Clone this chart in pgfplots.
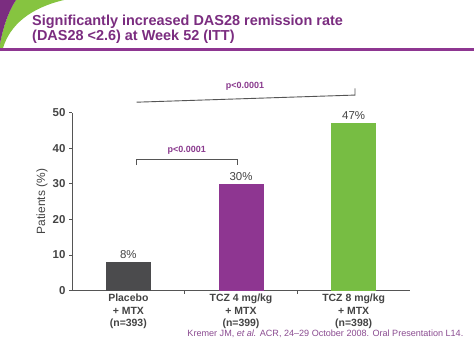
\documentclass[border=0pt]{standalone}
\usepackage{pgfplots}
\pgfplotsset{compat=1.18}
\usepackage{fontspec}
\setmainfont{Liberation Sans}
\definecolor{tpurple}{HTML}{7B2D80}
\definecolor{barpurple}{HTML}{8E3691}
\definecolor{bargreen}{HTML}{77BD43}
\definecolor{sgreen}{HTML}{86C440}
\definecolor{bardark}{HTML}{4B4B4D}
\definecolor{axisgray}{HTML}{555555}
\definecolor{labelgray}{HTML}{444444}
\definecolor{ppurple}{HTML}{8A3A8E}
\definecolor{fpurple}{HTML}{8B4C91}
\begin{document}
\begin{tikzpicture}[x=1bp,y=1bp]
\useasboundingbox (0,0) rectangle (474,-355);
\fill[white] (0,0) rectangle (474,-355);
% corner swoosh
\fill[sgreen] (16,0) -- (64,0) .. controls (30,-8) and (10,-25) .. (3,-48) -- (0,-48) -- (0,-44) .. controls (3,-28) and (8,-12) .. (16,0) -- cycle;
\fill[tpurple] (0,0) -- (16,0) .. controls (8,-12) and (3,-28) .. (0,-44) -- cycle;
\draw[barpurple, line width=2.5bp] (0,-49.5) -- (474,-49.5);
\node[anchor=base west, inner sep=0pt, text=tpurple, font=\fontsize{14.5}{16}\selectfont\bfseries] at (32,-25.5) {Significantly increased DAS28 remission rate};
\node[anchor=base west, inner sep=0pt, text=tpurple, font=\fontsize{14.5}{16}\selectfont\bfseries] at (32,-40.7) {(DAS28 <2.6) at Week 52 (ITT)};
\node[anchor=base east, inner sep=0pt, text=fpurple, font=\fontsize{9.1}{11}\selectfont] at (463.5,-336.5) {Kremer JM, \textit{et al.} ACR, 24--29 October 2008. Oral Presentation L14.};
\begin{axis}[
  at={(72bp,-290.5bp)}, anchor=south west,
  scale only axis, width=338bp, height=178bp,
  xmin=-0.5, xmax=2.5, ymin=0, ymax=50,
  clip=false,
  axis x line*=bottom, axis y line*=left,
  axis line style={draw=axisgray, line width=1bp, -},
  tick style={draw=axisgray, line width=0.8bp},
  tick align=outside, major tick length=3bp,
  ytick={0,10,20,30,40,50},
  /pgf/number format/assume math mode=true,
  yticklabel style={font=\fontsize{11.5}{13}\selectfont\bfseries, text=labelgray},
  xtick={0.5,1.5}, xticklabels={,,},
  extra x ticks={0,1,2},
  extra x tick labels={{Placebo\\+ MTX\\(n=393)},{TCZ 4 mg/kg\\+ MTX\\(n=399)},{TCZ 8 mg/kg\\+ MTX\\(n=398)}},
  extra x tick style={major tick length=0pt},
  xticklabel style={align=center, font=\fontsize{10.5}{12.5}\selectfont\bfseries, text=labelgray},
  ylabel={Patients (\%)},
  every axis y label/.style={at={(axis description cs:-0.0888,0.5)}, rotate=90, anchor=center, font=\fontsize{12}{14}\selectfont, text=labelgray},
]
\addplot[ybar, bar width=45bp, bar shift=0pt, fill=bardark, draw=none,
  point meta=y, nodes near coords={\pgfmathprintnumber{\pgfplotspointmeta}\%},
  every node near coord/.append style={font=\fontsize{11.5}{13}\selectfont, text=labelgray}] coordinates {(0,8)};
\addplot[ybar, bar width=45bp, bar shift=0pt, fill=barpurple, draw=none,
  point meta=y, nodes near coords={\pgfmathprintnumber{\pgfplotspointmeta}\%},
  every node near coord/.append style={font=\fontsize{11.5}{13}\selectfont, text=labelgray}] coordinates {(1,30)};
\addplot[ybar, bar width=45bp, bar shift=0pt, fill=bargreen, draw=none,
  point meta=y, nodes near coords={\pgfmathprintnumber{\pgfplotspointmeta}\%},
  every node near coord/.append style={font=\fontsize{11.5}{13}\selectfont, text=labelgray}] coordinates {(2,47)};
% significance brackets
\draw[axisgray, line width=0.9bp] (axis cs:0.074,35.25) -- (axis cs:0.074,36.85) -- (axis cs:0.967,36.85) -- (axis cs:0.967,35.25);
\node[text=ppurple, font=\fontsize{9}{10}\selectfont\bfseries] at (axis cs:0.518,39.3) {p<0.0001};
\draw[axisgray, line width=0.9bp] (axis cs:0.074,52.9) -- (axis cs:2.012,54.9) -- (axis cs:2.012,56.8);
\node[text=ppurple, font=\fontsize{9}{10}\selectfont\bfseries] at (axis cs:1.035,57.4) {p<0.0001};
\end{axis}
\end{tikzpicture}
\end{document}
